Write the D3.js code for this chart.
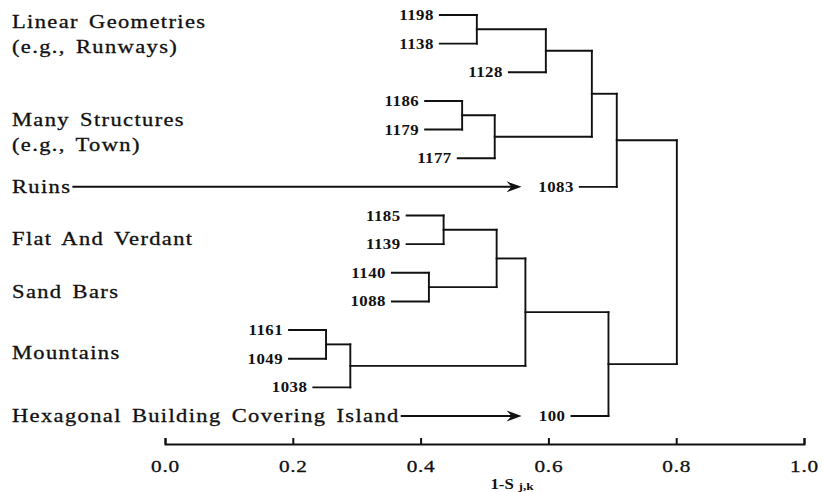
<!DOCTYPE html>
<html>
<head>
<meta charset="utf-8">
<script src="https://cdn.jsdelivr.net/npm/d3@7/dist/d3.min.js"></script>
<style>
  html, body { margin: 0; padding: 0; background: #fff; }
  svg { display: block; }
</style>
</head>
<body>
<svg id="chart" width="823" height="492"></svg>
<script>
// ---- data ----
const leafNames = ["1198","1138","1128","1186","1179","1177","1083","1185","1139","1140","1088","1161","1049","1038","100"];
const mergeNames  = ["J1","J2","J3","J4","J5","J6","J7","J8","J9","J10","J11","J12","J13","R"];
const mergeLeft   = ["1198","J1","1186","J3","J2","J5","1185","1140","J7","1161","J10","J9","J12","J6"];
const mergeRight  = ["1138","1128","1179","1177","J4","1083","1139","1088","J8","1049","1038","J11","100","J13"];
const mergeHeight = [0.488,0.596,0.465,0.516,0.668,0.707,0.436,0.413,0.519,0.252,0.290,0.564,0.694,0.801];

const categoryLines  = [["Linear Geometries","(e.g., Runways)"],["Many Structures","(e.g., Town)"],["Ruins"],["Flat And Verdant"],["Sand Bars"],["Mountains"],["Hexagonal Building Covering Island"]];
const categoryAnchor = [0.45, 3.88, 6.2, 8.03, 9.88, 12.0, 14.2]; // leaf-index position of first baseline
const arrowLeaf      = [null, null, "1083", null, null, null, "100"];
const arrowTip       = 0.558;

const tickValues = [0, 0.2, 0.4, 0.6, 0.8, 1.0];
const axisTitle = ["1-S", "j,k"];

// ---- layout ----
const svg = d3.select("#chart");
const x = d3.scaleLinear().domain([0, 1]).range([165, 804]);
const y = d3.scalePoint().domain(leafNames).range([15, 416]);
const idx = d3.scaleLinear().domain([0, leafNames.length - 1]).range([15, 416]);
const axisY = 444;
const stub = 37;
const serif = "'Liberation Serif', 'Times New Roman', serif";
const ink = "#111";

const nodeY = {}, nodeX = {};
leafNames.forEach(n => { nodeY[n] = y(n); });
mergeNames.forEach((n, i) => {
  nodeY[n] = (nodeY[mergeLeft[i]] + nodeY[mergeRight[i]]) / 2;
  nodeX[n] = x(mergeHeight[i]);
});

const g = svg.append("g")
  .attr("fill", "none").attr("stroke", ink).attr("stroke-width", 1.9)
  .attr("stroke-linecap", "square");

mergeNames.forEach((n, i) => {
  const px = nodeX[n];
  [mergeLeft[i], mergeRight[i]].forEach(c => {
    const cx = (c in nodeX) ? nodeX[c] : px - stub;
    g.append("line").attr("x1", cx).attr("x2", px).attr("y1", nodeY[c]).attr("y2", nodeY[c]);
    if (!(c in nodeX)) {
      svg.append("text")
        .attr("transform", `translate(${cx - 6},${nodeY[c]}) scale(1.2,1)`)
        .attr("dy", "0.36em")
        .attr("text-anchor", "end")
        .attr("font-family", serif).attr("font-size", 14).attr("font-weight", "bold")
        .attr("letter-spacing", 0.4).attr("fill", ink)
        .text(c);
    }
  });
  g.append("line").attr("x1", px).attr("x2", px)
    .attr("y1", nodeY[mergeLeft[i]]).attr("y2", nodeY[mergeRight[i]]);
});

// ---- category labels ----
const catScale = 1.25;
categoryLines.forEach((lines, i) => {
  const base = idx(categoryAnchor[i]);
  const t = svg.append("text")
    .attr("transform", `translate(12,${base}) scale(${catScale},1)`)
    .attr("font-family", serif).attr("font-size", 18)
    .attr("letter-spacing", 1.1).attr("word-spacing", 2.5)
    .attr("fill", ink).attr("stroke", ink).attr("stroke-width", 0.3);
  lines.forEach((ln, j) => {
    t.append("tspan").attr("x", 0).attr("y", j * 25).text(ln);
  });
  if (arrowLeaf[i]) {
    const bb = t.node().getBBox();
    const ay = y(arrowLeaf[i]);
    const tip = x(arrowTip);
    svg.append("line").attr("x1", 12 + (bb.x + bb.width) * catScale + 1).attr("x2", tip - 8)
      .attr("y1", ay).attr("y2", ay).attr("stroke", ink).attr("stroke-width", 2);
    svg.append("path")
      .attr("d", `M${tip},${ay} L${tip - 15},${ay - 5.5} L${tip - 10},${ay} L${tip - 15},${ay + 5.5} Z`)
      .attr("fill", ink);
  }
});

// ---- axis ----
const axis = d3.axisBottom(x).tickValues(tickValues)
  .tickFormat(d3.format(".1f")).tickSize(-6).tickSizeOuter(-6).tickPadding(16);
const ax = svg.append("g").attr("transform", `translate(0,${axisY})`).call(axis);
ax.select(".domain").attr("stroke", ink).attr("stroke-width", 2);
ax.selectAll(".tick line").attr("stroke", ink).attr("stroke-width", 2);
ax.selectAll(".tick text").attr("font-family", serif).attr("font-size", 17)
  .attr("letter-spacing", 0.6).attr("fill", ink).attr("stroke", ink).attr("stroke-width", 0.3)
  .attr("transform", "scale(1.25,1)");

const title = svg.append("text")
  .attr("transform", `translate(${x(0.543)},489) scale(1.2,1)`)
  .attr("text-anchor", "middle").attr("font-family", serif).attr("fill", ink)
  .attr("font-weight", "bold");
title.append("tspan").attr("font-size", 14).text(axisTitle[0]);
title.append("tspan").attr("font-size", 11).attr("dx", 4).attr("dy", 1).text(axisTitle[1]);
</script>
</body>
</html>
